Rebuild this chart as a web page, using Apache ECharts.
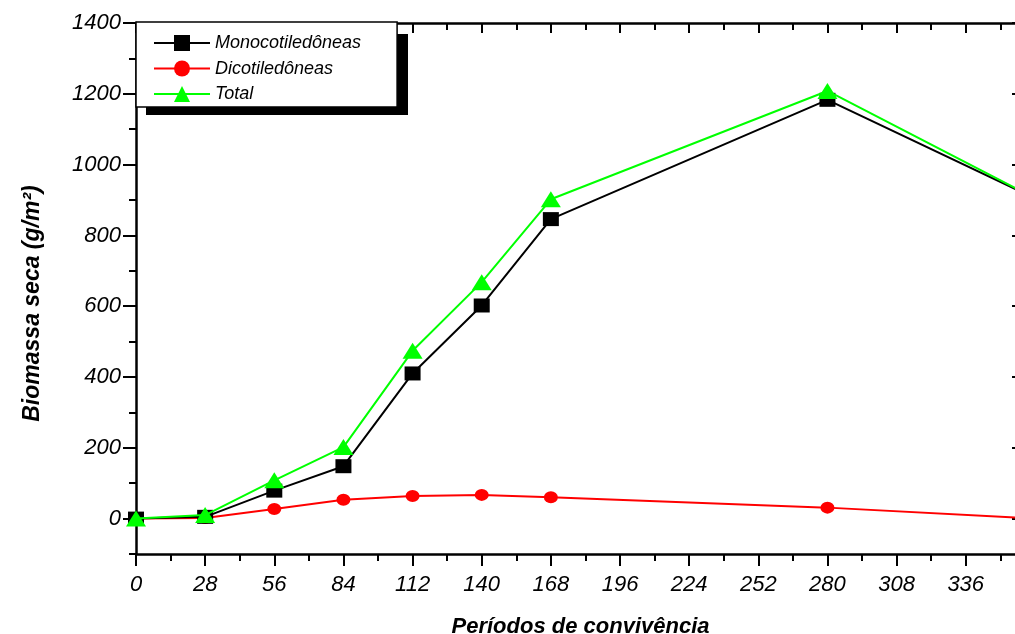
<!DOCTYPE html>
<html><head><meta charset="utf-8">
<script src="https://cdn.jsdelivr.net/npm/echarts@6/dist/echarts.min.js"></script>
<style>html,body{margin:0;padding:0;background:#fff}#c{width:1015px;height:634px}</style>
</head><body><div id="c"></div>
<script>
// ---- data ----
const days = [0, 28, 56, 84, 112, 140, 168, 280, 364];
const mono = [0, 5, 79, 148, 410, 602, 846, 1183, 905];
const dicot = [0, 2, 27, 53, 64, 67, 60, 31, 0];
const total = [0, 10, 108, 202, 474, 668, 902, 1208, 905];
const xTickLabels = [0, 28, 56, 84, 112, 140, 168, 196, 224, 252, 280, 308, 336];
const yTickLabels = [0, 200, 400, 600, 800, 1000, 1200, 1400];
const seriesNames = ['Monocotiledôneas', 'Dicotiledôneas', 'Total'];
const xName = 'Períodos de convivência';
const yName = 'Biomassa seca (g/m²)';

const toPairs = ys => days.map((d, i) => [d, ys[i]]);
const F = '"Liberation Sans", Arial, sans-serif';
const LBL = { fontFamily: F, fontStyle: 'italic', fontSize: 22, color: '#000', formatter: v => String(v) };
const AXL = { onZero: false, lineStyle: { color: '#000', width: 2.5 } };
const NOL = { show: false, onZero: false };

const chart = echarts.init(document.getElementById('c'), null, { renderer: 'canvas' });

const xBase = { type: 'value', min: 0, max: 360, splitLine: { show: false }, gridIndex: 0 };
const yBase = { type: 'value', min: -100, max: 1400, splitLine: { show: false }, gridIndex: 0 };

chart.setOption({
  animation: false,
  backgroundColor: '#fff',
  grid: { left: 136, top: 23, width: 889, height: 531, containLabel: false, outerBoundsMode: 'none' },
  graphic: [
    { type: 'rect', z: 0, zlevel: 0, shape: { x: 146, y: 34, width: 262, height: 81 }, style: { fill: '#000' }, silent: true }
  ],
  legend: {
    left: 136, top: 22, orient: 'vertical', z: 10,
    data: seriesNames,
    itemWidth: 56, itemHeight: 20, itemGap: 7.5,
    padding: [12, 36, 4, 17],
    backgroundColor: '#fff', borderColor: '#000', borderWidth: 1.5, borderRadius: 0,
    textStyle: { fontFamily: F, fontStyle: 'italic', fontSize: 18, color: '#000' }
  },
  xAxis: [
    Object.assign({}, xBase, {
      position: 'bottom', interval: 28,
      name: xName, nameLocation: 'middle', nameGap: 62,
      nameTextStyle: { fontFamily: F, fontStyle: 'italic', fontWeight: 'bold', fontSize: 22, color: '#000' },
      axisLine: AXL,
      axisTick: { length: 12, lineStyle: { color: '#000', width: 2 } },
      axisLabel: Object.assign({ margin: 20, customValues: xTickLabels }, LBL)
    }),
    Object.assign({}, xBase, {
      position: 'bottom', interval: 14,
      axisLine: NOL,
      axisTick: { length: 7, lineStyle: { color: '#000', width: 2 } },
      axisLabel: { show: false }
    }),
    Object.assign({}, xBase, {
      position: 'top', interval: 28,
      axisLine: AXL,
      axisTick: { inside: true, length: 10, lineStyle: { color: '#000', width: 2 } },
      axisLabel: { show: false }
    }),
    Object.assign({}, xBase, {
      position: 'top', interval: 14,
      axisLine: NOL,
      axisTick: { inside: true, length: 7, lineStyle: { color: '#000', width: 2 } },
      axisLabel: { show: false }
    })
  ],
  yAxis: [
    Object.assign({}, yBase, {
      position: 'left', interval: 100,
      name: yName, nameLocation: 'middle', nameGap: 92, nameRotate: 90,
      nameTextStyle: { fontFamily: F, fontStyle: 'italic', fontWeight: 'bold', fontSize: 23, color: '#000', padding: [0, 30, 0, 0] },
      axisLine: AXL,
      axisTick: { length: 13, customValues: yTickLabels, lineStyle: { color: '#000', width: 2 } },
      axisLabel: Object.assign({ margin: 15, customValues: yTickLabels }, LBL)
    }),
    Object.assign({}, yBase, {
      position: 'left', interval: 100,
      axisLine: NOL,
      axisTick: { length: 7, lineStyle: { color: '#000', width: 2 } },
      axisLabel: { show: false }
    }),
    Object.assign({}, yBase, {
      position: 'right', interval: 100,
      axisLine: AXL,
      axisTick: { inside: true, length: 13, customValues: yTickLabels, lineStyle: { color: '#000', width: 2 } },
      axisLabel: { show: false }
    })
  ],
  series: [
    {
      name: seriesNames[0], type: 'line', xAxisIndex: 0, yAxisIndex: 0,
      data: toPairs(mono), symbol: 'rect', symbolSize: [16, 14], z: 3,
      lineStyle: { color: '#000', width: 2 }, itemStyle: { color: '#000' }
    },
    {
      name: seriesNames[1], type: 'line', xAxisIndex: 0, yAxisIndex: 0,
      data: toPairs(dicot), symbol: 'circle', symbolSize: [14, 12], z: 2,
      lineStyle: { color: '#ff0000', width: 2 }, itemStyle: { color: '#ff0000' }
    },
    {
      name: seriesNames[2], type: 'line', xAxisIndex: 0, yAxisIndex: 0,
      data: toPairs(total), symbol: 'triangle', symbolSize: [20, 16], z: 4,
      lineStyle: { color: '#00ff00', width: 2 }, itemStyle: { color: '#00ff00' }
    }
  ]
});
</script>
</body></html>
